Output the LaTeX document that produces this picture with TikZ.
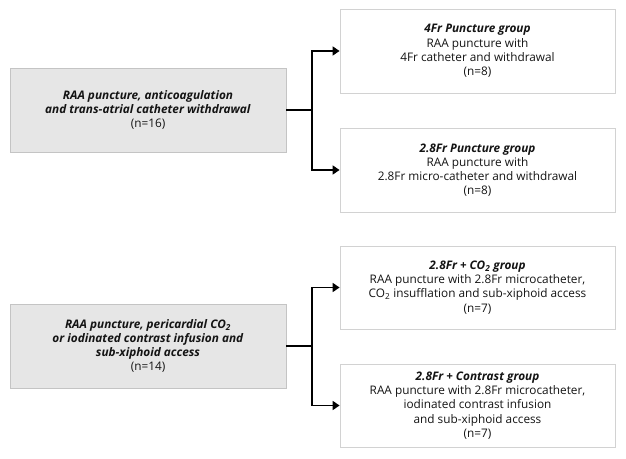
\documentclass[tikz,border=0pt]{standalone}
\usepackage{fontspec}
\setmainfont{Open Sans}
\usetikzlibrary{arrows.meta}
\definecolor{greyfill}{HTML}{E6E6E6}
\definecolor{greyline}{HTML}{C4C4C4}
\definecolor{boxline}{HTML}{D2D2D2}
\definecolor{txt}{HTML}{141414}
\tikzset{
  basebox/.style={rectangle, minimum height=84pt, align=center, text=txt,
    font=\fontsize{11.8}{14.2}\selectfont, inner sep=2pt},
  sourcebox/.style={basebox, fill=greyfill, draw=greyline, line width=0.8pt, minimum width=276pt},
  groupbox/.style={basebox, fill=white, draw=boxline, line width=0.8pt, minimum width=275pt},
  conn/.style={line width=1.6pt, black},
  arr/.style={conn, -{Triangle[length=7pt,width=9pt]}}
}
\begin{document}
\begin{tikzpicture}[x=1pt,y=1pt]
\useasboundingbox[fill=white] (0,0) rectangle (626,458);
% sources
\node[sourcebox] (g1) at (148,348) {\textbf{\textit{RAA puncture, anticoagulation}}\\\textbf{\textit{and trans-atrial catheter withdrawal}}\\(n=16)};
\node[sourcebox] (g2) at (148,112) {\textbf{\textit{RAA puncture, pericardial CO\textsubscript{2}}}\\\textbf{\textit{or iodinated contrast infusion and}}\\\textbf{\textit{sub-xiphoid access}}\\(n=14)};
% groups
\node[groupbox] (b1) at (477.5,407) {\textbf{\textit{4Fr Puncture group}}\\RAA puncture with\\4Fr catheter and withdrawal\\(n=8)};
\node[groupbox] (b2) at (477.5,288) {\textbf{\textit{2.8Fr Puncture group}}\\RAA puncture with\\2.8Fr micro-catheter and withdrawal\\(n=8)};
\node[groupbox, minimum height=83pt] (b3) at (477.5,170.5) {\textbf{\textit{2.8Fr + CO\textsubscript{2} group}}\\RAA puncture with 2.8Fr microcatheter,\\CO\textsubscript{2} insufflation and sub-xiphoid access\\(n=7)};
\node[groupbox, minimum height=83pt] (b4) at (477.5,52.5) {\textbf{\textit{2.8Fr + Contrast group}}\\RAA puncture with 2.8Fr microcatheter,\\iodinated contrast infusion\\and sub-xiphoid access\\(n=7)};
% junctions
\coordinate (j1) at (312,348);
\coordinate (j2) at (312,112);
\draw[conn] (g1.east) -- (j1);
\draw[arr] (j1) |- (b1.west);
\draw[arr] (j1) |- (b2.west);
\draw[conn] (g2.east) -- (j2);
\draw[arr] (j2) |- (b3.west);
\draw[arr] (j2) |- (b4.west);
\end{tikzpicture}
\end{document}
